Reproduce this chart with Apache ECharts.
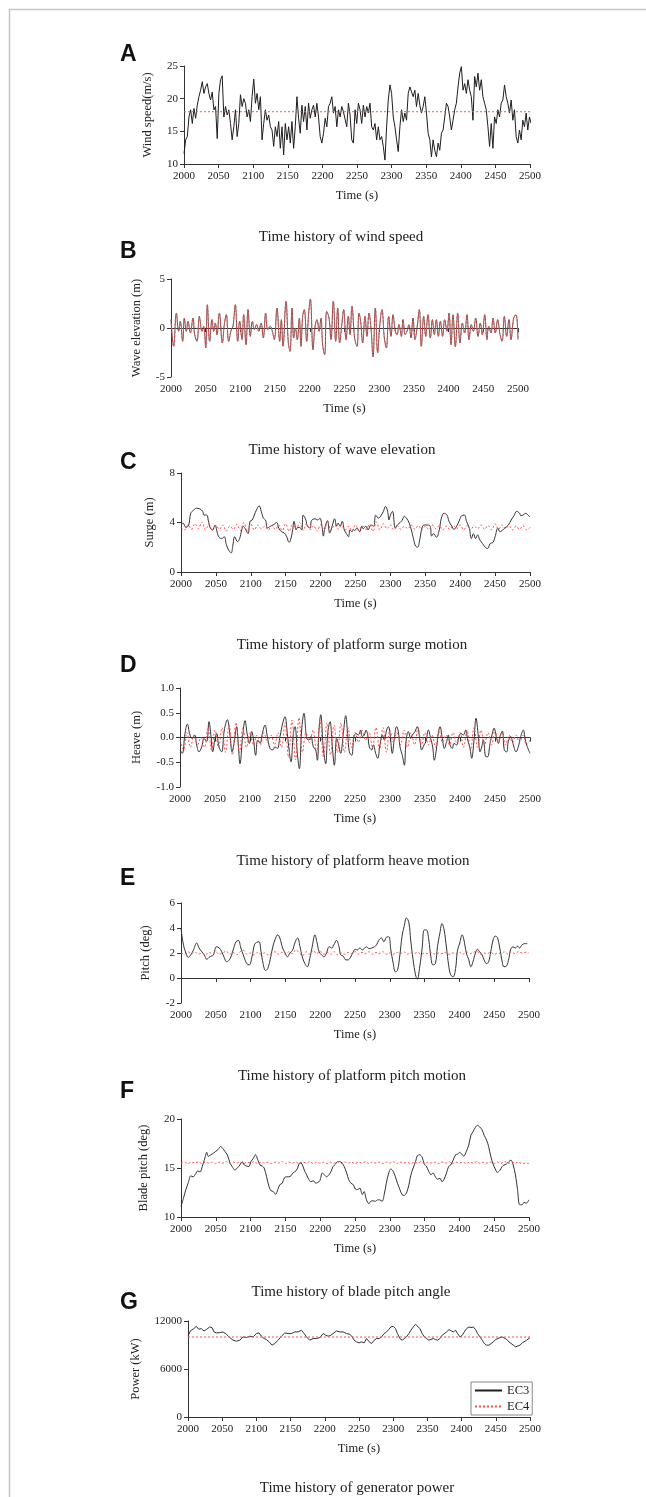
<!DOCTYPE html>
<html>
<head>
<meta charset="utf-8">
<script src="https://cdn.jsdelivr.net/npm/echarts@6/dist/echarts.min.js"></script>
<style>
html,body{margin:0;padding:0;background:#fff;}
#chart{width:646px;height:1497px;}
</style>
</head>
<body>
<div id="chart"></div>
<script>
// ---------------- DATA ----------------
const xTicks = [2000, 2050, 2100, 2150, 2200, 2250, 2300, 2350, 2400, 2450, 2500];

// A: wind speed (m/s), EC3 sampled every 2.4 s from t = 2000
const windStart = 2000, windStep = 2.4;
const windEC3 = [11.6,13.7,14.2,17.2,18.3,16.2,18.5,17.0,19.0,20.3,21.3,22.6,20.8,21.8,22.3,20.8,19.8,21.0,18.3,18.8,
13.9,20.8,22.9,23.5,17.2,18.8,17.5,18.3,16.2,13.7,15.7,18.3,14.2,16.2,20.6,18.8,20.0,19.3,17.2,18.3,
16.5,20.3,23.0,19.3,20.8,18.3,20.3,13.7,16.2,18.3,16.7,17.5,15.7,15.2,12.7,15.7,14.2,16.5,12.4,15.7,
11.4,16.2,13.7,15.7,13.2,16.5,12.4,15.7,20.3,17.0,14.7,19.0,16.5,18.8,15.2,19.3,17.0,18.3,19.0,17.2,
19.3,17.2,14.2,13.2,14.7,17.0,15.7,18.8,19.3,20.3,17.8,18.8,15.7,18.3,17.2,18.8,18.0,17.8,15.7,19.3,
17.5,13.7,13.2,18.3,16.2,19.3,
18.3,16.2,19.0,17.2,18.8,17.8,19.3,15.7,15.2,16.2,13.7,15.7,13.7,14.2,12.7,10.6,15.7,19.8,22.1,20.8,
17.2,15.7,13.7,11.9,15.7,18.3,16.5,17.8,16.7,20.8,21.8,22.1,20.3,21.3,18.8,20.8,19.0,17.8,18.8,20.3,
17.8,14.7,13.7,11.1,13.7,12.1,11.1,13.2,12.1,14.7,15.2,17.2,19.3,18.8,17.2,15.2,16.7,18.3,19.3,21.8,
23.9,24.9,21.3,22.3,20.8,22.9,21.3,20.3,16.7,23.4,21.8,23.9,21.3,22.9,20.3,19.3,18.3,15.7,12.7,16.2,
12.4,17.2,16.2,18.3,17.2,19.3,19.8,22.1,20.3,19.3,17.8,19.8,16.7,18.3,14.2,13.2,15.2,13.7,16.7,15.7,
17.8,15.2,17.2,16.2];
const windEC4 = [[2000, 18], [2500, 18]];

// B: wave elevation (m), [time, value] - EC3 and EC4 identical
const waveEC3 = [[2000,0.85],[2003.8,-1.87],[2007.7,1.53],[2011,-0.34],[2013.4,0.68],[2016.8,-1.36],[2019.2,1.02],[2022.1,-0.34],[2024.5,0.68],[2027.9,-0.51],
[2031.7,1.02],[2034.1,-0.68],[2037.5,-1.36],[2040.8,1.19],[2044.7,-0.34],[2047.1,0.17],[2050,-2.04],[2052.4,2.38],[2055.7,-1.36],[2059.1,0.85],
[2061.5,-0.34],[2063.9,0.51],[2066.3,-0.68],[2069.6,1.53],[2074,-1.53],[2076.8,0.34],[2079.7,1.36],[2083.1,-1.36],[2086.9,-0.17],[2089.3,0.17],
[2092.7,2.38],[2096.1,-1.36],[2098.9,0.71],[2102.3,-1.19],[2104.7,1.36],[2108.1,-1.7],[2111,1.87],[2114.3,-0.85],[2117.2,0.68],[2120.1,-0.17],
[2123.4,0.34],[2126.3,-0.34],[2129.7,0.51],[2133,-1.02],[2136.4,1.53],[2139.3,-0.17],[2143.1,0.17],[2146,-0.34],[2148.9,-1.19],[2152.7,2.04],
[2156.6,-1.36],[2159,0.85],[2161.4,-1.87],[2165.7,2.72],[2169.1,-1.53],[2171.5,-2.38],[2174.4,2.04],[2176.8,-1.02],[2179.2,0],[2182,-1.19],
[2184.9,1.02],[2187.3,-1.87],[2189.7,1.19],[2192.1,1.87],[2195.5,-1.36],[2198.4,1.53],[2200.8,2.96],[2204.6,-2.21],[2207.5,0.17],[2210.4,0.85],
[2213.3,-0.34],[2216.1,1.02],[2218.5,-1.7],[2221.4,-2.72],[2224.3,1.7],[2227.7,1.02],[2230.5,-1.19],[2233.9,2.72],[2237.3,-1.36],[2240.2,2.04],
[2243,-1.53],[2245.9,0.17],[2248.8,1.87],[2252.2,-1.19],[2255.5,1.19],[2257.9,-0.68],[2260.8,2.21],[2264.6,-1.02],[2268,-1.87],[2270.9,1.53],
[2273.3,0.68],[2276.2,-1.53],[2279.5,1.19],[2282.4,-0.85],[2285.3,1.53],[2288.2,0],[2291.1,-2.96],[2294.4,2.04],[2297.8,-2.55],[2300.7,0.17],
[2304,1.87],[2307.4,-1.02],[2310.3,-2.04],[2313.6,1.19],[2317,-0.85],[2319.9,1.36],[2323.2,-0.34],[2325.6,-0.68],[2328.5,0.34],[2331.9,-0.85],
[2334.3,0.85],[2337.6,-0.68],[2340.1,-0.34],[2342.9,0.34],[2345.8,-1.02],[2348.7,1.02],[2351.6,-1.19],[2354.5,0],[2357.8,1.87],[2360.7,-1.87],
[2364.1,1.19],[2367,-0.85],[2370.3,1.36],[2373.7,-1.02],[2376.6,0.85],[2379.4,-0.68],[2382.3,0.85],[2385.2,-0.85],[2388.1,0.68],[2391.4,-0.85],
[2394.3,0.85],[2397.7,-0.34],[2400.6,1.53],[2403.5,-1.7],[2406.3,1.36],[2409.7,-1.94],[2413.1,1.53],[2416.4,-1.53],[2419.8,0.51],[2423.1,-0.51],
[2426.5,1.36],[2429.4,-1.19],[2432.8,0.34],[2435.6,-0.34],[2439,1.02],[2442.4,-0.85],[2445.7,0.51],[2448.6,-0.68],[2452,1.36],[2455.3,-1.19],
[2457.7,0.17],[2461.1,-0.51],[2464,1.02],[2467.3,-0.51],[2470.7,0.85],[2474.1,-0.68],[2477,-1.36],[2480.3,1.19],[2483.7,-0.85],[2487,0.85],
[2489.9,-1.19],[2493.8,1.02],[2497.1,1.36],[2500,-1.19]];

// C: surge (m)
const surgeEC3 = [[2000,3.8],[2003,3.95],[2007,3.6],[2011,3.8],[2014,4.75],[2018,5.0],[2022,5.15],[2027,5.1],[2031,4.9],[2033,4.6],
[2037,4.6],[2039,4.2],[2042,3.55],[2045,3.4],[2049,3.8],[2051,3.4],[2054,2.85],[2058,2.7],[2062,2.85],[2065,2.2],
[2069,1.7],[2072,1.55],[2074,2.05],[2077,2.85],[2081,2.45],[2084,2.7],[2087,3.4],[2089,3.7],[2093,3.4],[2096,3.1],
[2099,4.1],[2102,4.2],[2105,4.6],[2108,5.0],[2112,5.35],[2115,4.9],[2118,4.35],[2121,4.2],[2124,3.55],[2128,3.7],
[2132,3.8],[2137,4.0],[2140,3.55],[2144,3.25],[2148,3.15],[2151,2.9],[2155,2.4],[2157,2.6],[2160,3.4],[2162,4.1],
[2165,3.4],[2167,3.6],[2170,3.6],[2173,3.4],[2175,4.6],[2179,4.2],[2181,3.7],[2185,3.55],[2187,4.15],[2192,4.3],
[2196,4.2],[2199,4.35],[2202,3.7],[2204,2.9],[2206,3.55],[2210,4.15],[2213,3.15],[2217,3.8],[2220,4.3],[2223,3.7],
[2225,3.95],[2228,3.7],[2231,4.1],[2234,3.4],[2237,3.1],[2240,2.85],[2242,3.4],[2245,3.25],[2247,3.45],[2249,3.35],
[2252,3.55],[2256,3.25],[2259,3.7],[2261,3.5],[2265,3.7],[2268,3.4],[2272,3.8],[2276,3.7],[2279,4.6],[2283,4.35],
[2287,4.6],[2290,4.9],[2293,5.3],[2296,4.9],[2298,4.2],[2300,4.6],[2303,4.9],[2307,3.55],[2310,3.8],[2314,4.0],
[2317,4.2],[2320,4.5],[2323,4.35],[2327,3.95],[2330,3.4],[2333,2.7],[2336,2.1],[2339,2.0],[2342,2.6],[2346,3.7],
[2350,3.8],[2353,3.8],[2357,3.7],[2359,2.9],[2362,3.1],[2366,2.8],[2370,3.4],[2373,4.35],[2377,4.75],[2381,4.6],
[2384,4.1],[2388,3.7],[2391,3.45],[2395,3.7],[2399,4.2],[2402,4.55],[2406,4.6],[2409,4.1],[2413,3.55],[2416,2.7],
[2419,3.1],[2422,2.7],[2425,3.0],[2428,2.6],[2432,2.3],[2436,2.0],[2439,1.9],[2443,2.3],[2447,2.4],[2450,2.85],
[2454,3.55],[2457,3.25],[2461,3.4],[2464,3.55],[2469,3.8],[2473,4.2],[2477,4.55],[2481,4.9],[2485,4.75],[2487,4.55],
[2490,4.6],[2494,4.75],[2497,4.6],[2500,4.45]];
// EC4 curves sampled every 5 s from t = 2000
const step5Start = 2000, step5 = 5;
const surgeEC4 = [3.6,3.4,3.8,3.45,3.9,3.5,4.05,3.4,3.85,3.35,
3.75,3.45,3.8,3.3,3.7,3.45,3.85,3.35,4.0,3.3,
3.9,3.4,3.8,3.5,3.7,3.4,3.75,3.45,3.8,3.35,
3.9,3.3,3.85,3.45,4.0,3.35,3.9,3.4,3.75,3.3,
3.85,3.4,4.0,3.35,3.8,3.45,3.75,3.4,3.7,3.3,
3.8,3.35,3.75,3.45,3.85,3.3,4.05,3.4,3.9,3.5,
3.8,3.4,3.75,3.45,3.7,3.5,3.8,3.45,3.75,3.4,
3.7,3.45,3.8,3.5,3.75,3.4,3.7,3.45,3.75,3.5,
3.8,3.4,3.75,3.45,3.7,3.5,3.8,3.45,3.75,3.4,
3.9,3.45,3.8,3.5,3.75,3.4,3.7,3.45,3.75,3.4,3.6];

// D: heave (m)
const heaveEC3 = [[2000,-0.25],[2003.3,-0.32],[2007.1,0.08],[2010.5,0.27],[2014.3,0.05],[2017.6,-0.02],[2021,0.05],[2023.8,-0.15],[2027.1,-0.29],[2031,-0.19],
[2034.3,-0.02],[2038.1,-0.08],[2041.4,0.32],[2044.3,0.02],[2046.7,-0.29],[2050,-0.02],[2052.4,0.08],[2055.7,-0.19],[2059.5,-0.29],[2063.3,0.15],
[2067.6,0.36],[2071.4,0.05],[2074.3,-0.29],[2077.1,-0.12],[2081,0.22],[2083.3,-0.15],[2085.7,-0.53],[2089.5,0.02],[2092.9,0.34],[2096.2,0.05],
[2099,-0.12],[2102.4,0.12],[2104.8,-0.02],[2108.1,-0.36],[2111,-0.05],[2114.3,-0.12],[2117.6,0.08],[2121.4,0.25],[2124.8,0.02],[2128.6,-0.22],
[2132.4,-0.25],[2135.7,-0.19],[2139,-0.22],[2142.9,0.02],[2146.7,0.29],[2150,0.42],[2153.3,0.08],[2156.2,-0.29],[2158.6,-0.49],[2161.9,0.08],
[2164.3,0.22],[2167.6,-0.32],[2170.5,-0.63],[2173.8,0.15],[2177.1,0.49],[2181,-0.02],[2184.3,-0.05],[2187.1,0.02],[2190.5,-0.19],[2193.8,-0.25],
[2196.2,-0.46],[2198.6,0.15],[2201,0.46],[2204.8,-0.22],[2208.1,-0.53],[2211,0.08],[2214.3,0.32],[2217.6,-0.19],[2220.5,-0.56],[2223.8,-0.02],
[2226.2,-0.12],[2229.5,-0.32],[2233.3,0.08],[2236.7,0.44],[2239.5,0.08],[2241.9,-0.29],[2245.2,-0.36],[2248.6,0.02],[2251.4,0.08],[2254.8,0.05],
[2258.1,0.15],[2260.5,0.02],[2263.3,0.05],[2265.7,0.15],[2268.1,0.05],[2270.5,-0.19],[2273.8,-0.25],[2276.2,-0.15],[2279.5,-0.32],[2282.4,-0.42],
[2285.7,-0.15],[2289,0.05],[2291.9,-0.05],[2295.2,0.15],[2297.6,0.22],[2300,0.08],[2303.3,-0.32],[2306.2,-0.02],[2309.5,0.22],[2311.9,0.12],
[2314.3,-0.19],[2317.6,-0.36],[2320.5,-0.56],[2322.9,-0.08],[2326.2,0.12],[2329.5,-0.02],[2331.9,0.05],[2335.7,0.12],[2339,0.22],[2342.9,-0.08],
[2345.2,-0.25],[2348.6,-0.15],[2351.4,-0.08],[2354.8,0.15],[2358.1,-0.02],[2361,-0.19],[2363.3,-0.46],[2366.7,-0.19],[2369,0.08],[2371.4,0.22],
[2374.8,-0.02],[2377.6,-0.22],[2381,-0.08],[2383.3,0.05],[2385.7,-0.15],[2389,-0.22],[2391.4,-0.12],[2395.2,-0.15],[2398.6,0.02],[2401.4,0.08],
[2404.8,0.05],[2408.1,0.15],[2411,-0.05],[2414.3,-0.22],[2416.7,-0.42],[2420,-0.05],[2422.9,0.39],[2426.2,0.02],[2428.6,-0.29],[2431,-0.19],
[2433.3,-0.05],[2437.1,-0.39],[2439.5,-0.39],[2442.9,-0.12],[2446.2,0.08],[2448.6,0.19],[2452.4,-0.02],[2454.8,-0.12],[2457.1,0.02],[2460.5,0.13],
[2463.3,-0.25],[2466.7,-0.29],[2469,-0.08],[2472.4,0.02],[2476.2,-0.15],[2480,-0.29],[2483.3,-0.19],[2486.7,0.02],[2490.5,0.15],[2492.9,-0.02],
[2495.2,-0.15],[2500,-0.32]];
const heaveEC4 = [-0.05,-0.25,0.1,-0.2,0.05,-0.15,0.0,-0.2,0.2,-0.25,
0.15,-0.2,0.2,-0.3,0.25,-0.35,0.3,-0.3,0.2,-0.2,
0.1,-0.15,0.05,-0.15,0.1,-0.1,0.05,-0.15,0.1,-0.2,
0.3,-0.4,0.35,-0.45,0.4,-0.3,0.1,-0.1,0.15,-0.3,
0.35,-0.4,0.3,-0.35,0.25,-0.3,0.3,-0.3,0.2,-0.2,
0.1,-0.1,0.15,-0.05,0.1,-0.2,0.2,-0.25,0.2,-0.3,
0.15,-0.1,0.1,-0.15,0.15,-0.2,0.1,-0.15,0.2,-0.15,
0.1,-0.15,0.05,-0.2,0.15,-0.1,0.05,-0.15,0.1,-0.1,
0.1,-0.2,0.15,-0.25,0.2,-0.2,0.15,-0.15,0.1,-0.15,
0.15,-0.1,0.1,-0.15,0.05,-0.1,0.05,-0.1,0.05,-0.15,-0.05];

// E: platform pitch (deg)
const pitchEC3 = [[2000,4.0],[2003,2.8],[2007,2.0],[2010.5,1.65],[2014,1.85],[2018,2.25],[2022.5,2.8],[2026,2.4],[2030,2.1],[2033.5,1.85],
[2037,1.5],[2041.5,1.7],[2046.5,1.85],[2051,2.5],[2055,2.4],[2058.5,2.1],[2062,1.65],[2065.5,1.3],[2070.5,1.55],[2075,2.25],
[2079,2.9],[2082.5,3.0],[2086,2.4],[2089.5,1.85],[2094.5,1.15],[2098,1.05],[2102,1.7],[2105.5,2.65],[2108.5,2.85],[2112,2.9],
[2115,2.1],[2118,1.15],[2121.5,0.6],[2124.5,0.75],[2128,1.45],[2131.5,2.4],[2135,3.05],[2139,3.45],[2142,3.2],[2146,2.4],
[2149.5,2.0],[2153,1.7],[2156.5,2.0],[2160.5,2.25],[2163.5,2.8],[2167.5,3.2],[2171,2.5],[2174,1.75],[2178,1.15],[2181.5,0.9],
[2185,1.55],[2188.5,2.5],[2192.5,3.45],[2195.5,2.8],[2198.5,2.1],[2202,1.85],[2205.5,1.7],[2209,2.0],[2213,2.5],[2216.5,2.4],
[2219.5,2.65],[2223.5,3.0],[2227,2.5],[2229.5,1.85],[2233,1.75],[2237,1.45],[2240,1.45],[2243.5,1.65],[2247.5,2.1],[2250.5,2.3],
[2253.5,2.25],[2257,2.4],[2260.5,2.25],[2263,2.35],[2266.5,2.5],[2270,2.35],[2274,2.4],[2278,2.5],[2281,2.65],[2284,3.0],
[2288,3.2],[2291.5,2.9],[2295,3.25],[2298.5,3.3],[2301.5,2.25],[2305,1.15],[2308,0.5],[2311,0.6],[2314.5,1.85],[2317.5,3.3],
[2320.5,4.1],[2324,4.8],[2327.5,4.4],[2330,3.05],[2333.5,1.45],[2337,0.25],[2339.5,-0.1],[2343,0.9],[2346.5,2.4],[2349.5,3.85],
[2352.5,3.85],[2356,3.05],[2359,1.7],[2362,1.05],[2365.5,1.15],[2368.5,2.5],[2372,3.6],[2375,4.35],[2378,3.85],[2381.5,2.4],
[2384.5,1.05],[2387.5,0.25],[2391,0.1],[2394.5,0.75],[2397,2.1],[2400.5,2.8],[2404,3.45],[2406.5,3.05],[2410,2.0],[2413.5,1.45],
[2416.5,0.9],[2419.5,1.3],[2423,2.0],[2426,2.3],[2429,2.1],[2432.5,1.85],[2435.5,1.45],[2439,1.15],[2442,1.3],[2445,2.1],
[2448.5,3.05],[2451.5,3.35],[2454.5,3.25],[2458,2.4],[2461.5,1.3],[2464,0.9],[2467.5,0.95],[2471,1.55],[2473.5,2.25],[2477,2.5],
[2480.5,2.4],[2483.5,2.55],[2486.5,2.4],[2490,2.65],[2494,2.75],[2497.5,2.75]];
const pitchEC4 = [2.0,1.9,2.1,1.95,2.05,1.9,2.0,1.85,2.05,1.95,
2.1,1.9,2.0,2.15,1.9,2.05,1.85,2.1,2.2,1.9,
2.0,1.85,2.05,1.9,2.0,1.85,1.95,2.1,1.9,2.05,
1.9,2.1,1.95,2.25,2.0,1.8,2.1,1.9,2.2,1.95,
2.15,1.9,2.05,1.9,2.1,1.85,2.0,1.9,2.05,1.95,
2.1,1.9,2.05,1.95,2.1,1.9,2.05,1.95,2.1,1.9,
2.0,1.9,2.05,1.95,2.1,1.9,2.0,1.95,2.05,1.9,
2.0,1.95,2.05,1.9,2.0,1.95,2.05,1.9,2.0,1.95,
2.05,1.9,2.1,1.95,2.05,2.15,1.9,2.0,1.95,2.05,
1.9,2.0,1.95,2.1,1.9,2.05,1.95,2.1,2.0,2.05,2.0];

// F: blade pitch (deg)
const bladeEC3 = [[2000,11.1],[2003.5,11.9],[2007,12.8],[2010.5,13.5],[2014,14.2],[2017.5,14.1],[2021,14.4],[2024,14.7],[2027.5,14.6],[2030.5,15.15],
[2033.5,15.8],[2037,16.6],[2039,16.2],[2043,16.35],[2046.5,16.5],[2050,16.7],[2053.5,16.9],[2057,17.2],[2060,17.0],[2063,16.7],
[2066.5,16.35],[2070.5,15.5],[2073.5,15.15],[2077.5,14.8],[2081,15.0],[2084.5,15.3],[2088,15.65],[2091,15.3],[2094.5,15.2],[2097.5,15.15],
[2100.5,15.65],[2104,16.0],[2107,16.35],[2110,15.9],[2113.5,15.3],[2117,15.2],[2119.5,15.0],[2123,14.1],[2126.5,13.1],[2129,12.7],
[2132.5,12.6],[2136,12.3],[2139,12.8],[2142,13.3],[2145.5,13.45],[2148.5,14.0],[2151.5,14.1],[2155,14.1],[2158,14.2],[2161.5,14.55],
[2164.5,14.65],[2167.5,15.0],[2171,15.55],[2174,15.4],[2177,14.8],[2180.5,14.3],[2183.5,13.85],[2186.5,13.6],[2190,13.7],[2193.5,13.45],
[2196,13.5],[2199.5,13.7],[2203,14.5],[2206,14.3],[2209,14.1],[2212.5,14.3],[2215.5,14.65],[2218.5,15.15],[2222,15.4],[2225,15.65],
[2228,15.65],[2231.5,15.5],[2234.5,15.15],[2238,14.5],[2241,13.8],[2244,13.45],[2247.5,13.3],[2250.5,12.85],[2253.5,12.8],[2257,12.95],
[2260.5,12.3],[2263,12.6],[2266.5,11.75],[2270,11.35],[2272.5,11.6],[2276,11.65],[2279.5,11.6],[2282.5,11.75],[2285.5,11.75],[2289,11.6],
[2292,12.3],[2295,13.45],[2298.5,14.5],[2301.5,14.9],[2305,14.65],[2308,14.1],[2311,13.45],[2314.5,12.8],[2317.5,12.3],[2320.5,12.2],
[2324,12.45],[2327.5,13.3],[2330,14.2],[2333.5,15.0],[2337,15.65],[2339.5,16.25],[2343,16.35],[2346.5,16.1],[2349.5,15.4],[2352.5,15.2],
[2356,14.65],[2359,14.3],[2362,14.5],[2365.5,14.1],[2368.5,13.85],[2372,13.95],[2375,13.6],[2378,13.85],[2381.5,14.5],[2384.5,15.15],
[2387.5,15.3],[2391,15.8],[2394.5,16.35],[2397,16.4],[2400.5,16.6],[2404,16.35],[2406.5,16.2],[2410,16.7],[2413.5,17.35],[2416.5,18.35],
[2419.5,18.7],[2423,19.15],[2426,19.35],[2429,19.2],[2432.5,18.9],[2435.5,18.35],[2439,17.85],[2442,17.2],[2445,16.2],[2448.5,15.4],
[2451.5,14.9],[2454.5,14.55],[2458,14.75],[2461.5,15.15],[2464,15.3],[2467.5,15.4],[2471,15.65],[2474,15.8],[2477,15.4],[2480.5,14.3],
[2483.5,12.8],[2486.5,11.25],[2490,11.25],[2493,11.5],[2496,11.4],[2500,11.75]];
const bladeEC4 = [15.5,15.6,15.45,15.6,15.5,15.65,15.45,15.6,15.5,15.6,
15.45,15.6,15.5,15.65,15.45,15.6,15.5,15.6,15.45,15.6,
15.5,15.65,15.45,15.6,15.5,15.6,15.45,15.6,15.5,15.65,
15.45,15.6,15.5,15.6,15.45,15.6,15.5,15.65,15.45,15.6,
15.5,15.6,15.45,15.6,15.5,15.65,15.45,15.6,15.5,15.6,
15.45,15.6,15.5,15.65,15.45,15.6,15.5,15.6,15.45,15.6,
15.5,15.65,15.45,15.6,15.5,15.6,15.45,15.6,15.5,15.65,
15.45,15.6,15.5,15.6,15.45,15.6,15.5,15.65,15.45,15.6,
15.5,15.6,15.45,15.6,15.5,15.65,15.45,15.6,15.5,15.6,
15.45,15.6,15.5,15.65,15.45,15.6,15.5,15.6,15.45,15.5,15.45];

// G: generator power (kW)
const powerEC3 = [[2000,10097],[2003.4,10759],[2007.3,10966],[2012.2,11338],[2015.6,10966],[2019.5,11048],[2023.4,10759],[2026.8,10924],[2031.7,11255],[2035.1,11172],
[2038,10634],[2041.5,10510],[2046.3,10552],[2051.2,10634],[2056.1,10345],[2061,9931],[2065.9,9600],[2070.7,9476],[2075.6,9600],[2080.5,10014],
[2085.4,9931],[2090.2,10097],[2095.1,10014],[2100,10428],[2103.9,10510],[2107.3,10097],[2111.2,9807],[2114.6,9683],[2118.5,9393],[2122.9,8979],
[2126.8,9186],[2131.7,9600],[2136.6,10097],[2141.5,10510],[2146.3,10428],[2151.2,10428],[2156.1,10634],[2161,10634],[2165.9,10841],[2169.8,10428],
[2173.2,10014],[2178,9600],[2182.9,9807],[2187.8,9807],[2192.7,9931],[2197.6,10428],[2201.5,10221],[2204.9,10097],[2208.8,10221],[2212.2,10428],
[2217.1,10759],[2222,10634],[2226.8,10634],[2231.7,10428],[2236.6,10345],[2240,10014],[2242.9,9600],[2246.3,9393],[2250.2,9269],[2253.7,9393],
[2257.6,9269],[2261,9807],[2264.9,9393],[2268.3,9186],[2272.2,9600],[2275.6,9807],[2279.5,9807],[2282.9,10014],[2286.8,10428],[2290.2,10634],
[2293.7,10966],[2296.6,11255],[2300,11338],[2303.4,11048],[2306.3,10428],[2309.8,9807],[2313.2,9600],[2316.1,9600],[2319.5,10014],[2322.9,10428],
[2325.9,10841],[2329.3,11255],[2332.7,11586],[2335.6,11462],[2339,11048],[2342.4,10428],[2345.4,10014],[2348.8,9807],[2352.2,9600],[2355.1,9517],
[2358.5,9807],[2361.9,9683],[2364.9,9600],[2368.3,9807],[2371.7,10221],[2374.6,10428],[2378,10634],[2381.5,10924],[2384.4,10841],[2387.8,10634],
[2391.2,10841],[2394.1,10428],[2397.6,10014],[2401,10221],[2403.9,10634],[2407.3,11048],[2410.7,11255],[2413.7,11172],[2417.1,11255],[2420.5,10924],
[2423.4,10428],[2426.8,10014],[2430.2,9600],[2433.2,9186],[2436.6,8979],[2440,8979],[2442.9,9186],[2446.3,9393],[2449.8,9683],[2452.7,9807],
[2456.1,9931],[2459.5,10014],[2462.4,10097],[2465.9,9683],[2469.3,9393],[2472.2,9186],[2475.6,8979],[2479,8772],[2481.9,8566],[2485.4,8979],
[2488.8,9269],[2491.7,9393],[2495.1,9600],[2500,9931]];
const powerEC4 = [[2000, 10000], [2500, 10000]];

// ---------------- CHART ----------------
const SERIF = "'Liberation Serif','Times New Roman',serif";
const SANS = "'Liberation Sans',Arial,sans-serif";
const BLACK = '#333333';
const RED = '#ff4d4d';

const toPairs = (vals, start, step) => vals.map((v, i) => [start + i * step, v]);

const panels = [
  {letter:'A', letterY:55, grid:{left:184, top:66, width:346, height:98}, y:{min:10, max:25, interval:5}, yName:'Wind speed(m/s)', yGap:30,
   sub:'Time history of wind speed', subX:341, subY:237,
   ec3: toPairs(windEC3, windStart, windStep), ec4: windEC4, smooth:false, black:'#1e1e1e'},
  {letter:'B', letterY:252, grid:{left:171, top:279, width:347, height:98}, y:{min:-5, max:5, interval:5}, yName:'Wave elevation (m)', yGap:28,
   sub:'Time history of wave elevation', subX:342, subY:450,
   ec3: waveEC3, ec4: waveEC3, smooth:0.4, black:'#555555'},
  {letter:'C', letterY:463, grid:{left:181, top:473, width:349, height:99}, y:{min:0, max:8, interval:4}, yName:'Surge (m)', yGap:25,
   sub:'Time history of platform surge motion', subX:352, subY:645,
   ec3: surgeEC3, ec4: toPairs(surgeEC4, step5Start, step5), smooth:0.4, black:BLACK},
  {letter:'D', letterY:666, grid:{left:180, top:688, width:350, height:99}, y:{min:-1, max:1, interval:0.5, fmt:1}, yName:'Heave (m)', yGap:37,
   sub:'Time history of platform heave motion', subX:353, subY:861,
   ec3: heaveEC3, ec4: toPairs(heaveEC4, step5Start, step5), smooth:0.4, black:BLACK},
  {letter:'E', letterY:879, grid:{left:181, top:903, width:348, height:100}, y:{min:-2, max:6, interval:2}, yName:'Pitch (deg)', yGap:29,
   sub:'Time history of platform pitch motion', subX:352, subY:1076,
   ec3: pitchEC3, ec4: toPairs(pitchEC4, step5Start, step5), smooth:0.4, black:BLACK},
  {letter:'F', letterY:1092, grid:{left:181, top:1119, width:348, height:98}, y:{min:10, max:20, interval:5}, yName:'Blade pitch (deg)', yGap:31,
   sub:'Time history of blade pitch angle', subX:351, subY:1292,
   ec3: bladeEC3, ec4: toPairs(bladeEC4, step5Start, step5), smooth:0.3, black:BLACK},
  {letter:'G', letterY:1303, grid:{left:188, top:1321, width:342, height:96}, y:{min:0, max:12000, interval:6000}, yName:'Power (kW)', yGap:46,
   sub:'Time history of generator power', subX:357, subY:1488,
   ec3: powerEC3, ec4: powerEC4, smooth:false, black:BLACK}
];

const axisLine = {show:true, lineStyle:{color:'#333', width:1}};
const axisTick = {show:true, inside:false, length:4, lineStyle:{color:'#333', width:1}};
const tickFont = {fontFamily:SERIF, fontSize:11, color:'#222'};

const grid = [], xAxis = [], yAxis = [], series = [], graphic = [];

panels.forEach((p, i) => {
  grid.push(Object.assign({containLabel:false}, p.grid));
  xAxis.push({
    type:'value', gridIndex:i, min:2000, max:2500, interval:50,
    name:'Time (s)', nameLocation:'middle', nameGap:25,
    nameTextStyle:{fontFamily:SERIF, fontSize:12.5, color:'#222'},
    axisLine, axisTick, splitLine:{show:false},
    axisLabel:Object.assign({margin:7, showMinLabel:true, showMaxLabel:true, formatter:v => String(v)}, tickFont)
  });
  yAxis.push({
    type:'value', gridIndex:i, min:p.y.min, max:p.y.max, interval:p.y.interval,
    name:p.yName, nameLocation:'middle', nameGap:p.yGap,
    nameTextStyle:{fontFamily:SERIF, fontSize:12.5, color:'#222'},
    axisLine, axisTick, splitLine:{show:false},
    axisLabel:Object.assign({margin:6, formatter: p.y.fmt ? (v => v.toFixed(p.y.fmt)) : (v => String(v))}, tickFont)
  });
  series.push({
    name:'EC3', type:'line', xAxisIndex:i, yAxisIndex:i, data:p.ec3,
    symbol:'none', showSymbol:false, smooth:p.smooth, clip:true, silent:true, animation:false,
    lineStyle:{color:p.black, width:1}, itemStyle:{color:p.black}, z:2
  });
  series.push({
    name:'EC4', type:'line', xAxisIndex:i, yAxisIndex:i, data:p.ec4,
    symbol:'none', showSymbol:false, smooth:p.smooth, clip:true, silent:true, animation:false,
    lineStyle:{color:RED, width:1, type:[2,2]}, itemStyle:{color:RED}, z:3
  });
  graphic.push({type:'text', left:120, top:p.letterY - 12,
    style:{text:p.letter, font:'bold 23px ' + SANS, fill:'#111'}});
  graphic.push({type:'text', x:p.subX, y:p.subY,
    style:{text:p.sub, font:'15px ' + SERIF, fill:'#222', textAlign:'center', textVerticalAlign:'middle'}});
});

// outer frame (top and left edges)
graphic.push({type:'polyline', shape:{points:[[9.5,1497],[9.5,9.5],[646,9.5]]},
  style:{stroke:'#c6c6c6', lineWidth:1.5, fill:null}});

const chart = echarts.init(document.getElementById('chart'), null, {renderer:'canvas'});
chart.setOption({
  animation:false,
  backgroundColor:'#ffffff',
  grid, xAxis, yAxis, series, graphic,
  legend:{
    data:['EC3','EC4'], orient:'vertical', left:471, top:1382,
    itemWidth:27, itemHeight:12, itemGap:3, padding:[2,3,2,3],
    borderColor:'#888', borderWidth:1, backgroundColor:'#fff',
    selectedMode:false,
    itemStyle:{opacity:0},
    textStyle:{fontFamily:SERIF, fontSize:12.5, color:'#222'}
  }
});
</script>
</body>
</html>
